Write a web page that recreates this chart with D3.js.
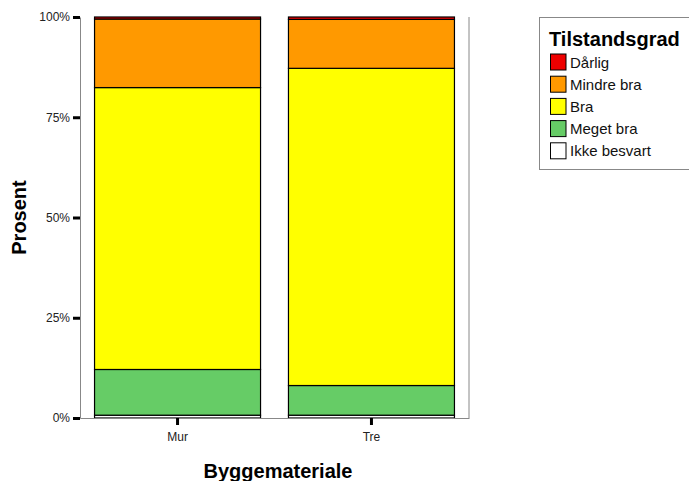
<!DOCTYPE html>
<html><head><meta charset="utf-8">
<script src="https://cdn.jsdelivr.net/npm/d3@7"></script>
<style>body{margin:0;background:#fff}svg{display:block;font-family:"Liberation Sans",Arial,sans-serif}</style>
</head><body><svg id="c" width="689" height="481"></svg>
<script>
const categories = ["Mur", "Tre"];
const seriesNames = ["Ikke besvart", "Meget bra", "Bra", "Mindre bra", "Dårlig"];
const ikkeBesvart = [0.7, 0.7];
const megetBra = [11.4, 7.4];
const bra = [70.3, 79.1];
const mindreBra = [17.1, 12.2];
const darlig = [0.5, 0.6];
const colors = ["#ffffff", "#66cc66", "#ffff00", "#ff9900", "#ee0000"];
const yTicks = [0, 25, 50, 75, 100];
const legendOrder = ["Dårlig", "Mindre bra", "Bra", "Meget bra", "Ikke besvart"];

const seriesVals = [ikkeBesvart, megetBra, bra, mindreBra, darlig];
const data = categories.map((c, i) => {
  const o = {cat: c};
  seriesNames.forEach((s, j) => o[s] = seriesVals[j][i]);
  return o;
});
const stack = d3.stack().keys(seriesNames)(data);

const svg = d3.select("#c");
const L = 80, R = 469, T = 17, B = 418;
const x = d3.scaleBand().domain(categories).range([L, R]).paddingInner(0.144).paddingOuter(0.075);
const y = d3.scaleLinear().domain([0, 100]).range([B, T]);
const color = d3.scaleOrdinal().domain(seriesNames).range(colors);

// frame
svg.append("line").attr("x1", R).attr("x2", R).attr("y1", T).attr("y2", B).attr("stroke", "#888").attr("stroke-width", 1);

// bars
svg.append("g").selectAll("g").data(stack).join("g")
  .attr("fill", d => color(d.key))
  .selectAll("rect").data(d => d).join("rect")
  .attr("x", d => x(d.data.cat))
  .attr("width", x.bandwidth())
  .attr("y", d => y(d[1]))
  .attr("height", d => y(d[0]) - y(d[1]))
  .attr("stroke", "#000").attr("stroke-width", 1.2);

// y axis
const ya = svg.append("g").attr("transform", `translate(${L},0)`)
  .call(d3.axisLeft(y).tickValues(yTicks).tickFormat(d => d + "%").tickSizeInner(7).tickSizeOuter(0));
ya.select(".domain").attr("stroke", "#888");
ya.selectAll(".tick line").attr("stroke", "#000").attr("stroke-width", 3);
ya.selectAll(".tick text").attr("font-size", 12).attr("fill", "#222").attr("x", -10).attr("font-family", "Liberation Sans, Arial, sans-serif");

// x axis
const xa = svg.append("g").attr("transform", `translate(0,${B})`)
  .call(d3.axisBottom(x).tickSizeInner(7).tickSizeOuter(0));
xa.select(".domain").attr("stroke", "#888");
xa.selectAll(".tick line").attr("stroke", "#000").attr("stroke-width", 3);
xa.selectAll(".tick text").attr("font-size", 12).attr("fill", "#222").attr("y", 14).attr("font-family", "Liberation Sans, Arial, sans-serif");

// axis titles
svg.append("text").attr("x", 278).attr("y", 478).attr("text-anchor", "middle")
  .attr("font-size", 20).attr("font-weight", "bold").text("Byggemateriale");
svg.append("text").attr("transform", `translate(26,${(T + B) / 2}) rotate(-90)`).attr("text-anchor", "middle")
  .attr("font-size", 20).attr("font-weight", "bold").text("Prosent");

// legend
const lg = svg.append("g");
lg.append("rect").attr("x", 539.5).attr("y", 17.5).attr("width", 160).attr("height", 152)
  .attr("fill", "#fff").attr("stroke", "#888");
lg.append("text").attr("x", 549).attr("y", 46).attr("font-size", 20).attr("font-weight", "bold").text("Tilstandsgrad");
legendOrder.forEach((n, i) => {
  const cy = 62 + i * 22.2;
  lg.append("rect").attr("x", 550.5).attr("y", cy - 8).attr("width", 15.5).attr("height", 16)
    .attr("fill", color(n)).attr("stroke", "#000").attr("stroke-width", 1);
  lg.append("text").attr("x", 570).attr("y", cy + 5.5).attr("font-size", 15).attr("fill", "#111").text(n);
});
</script></body></html>
